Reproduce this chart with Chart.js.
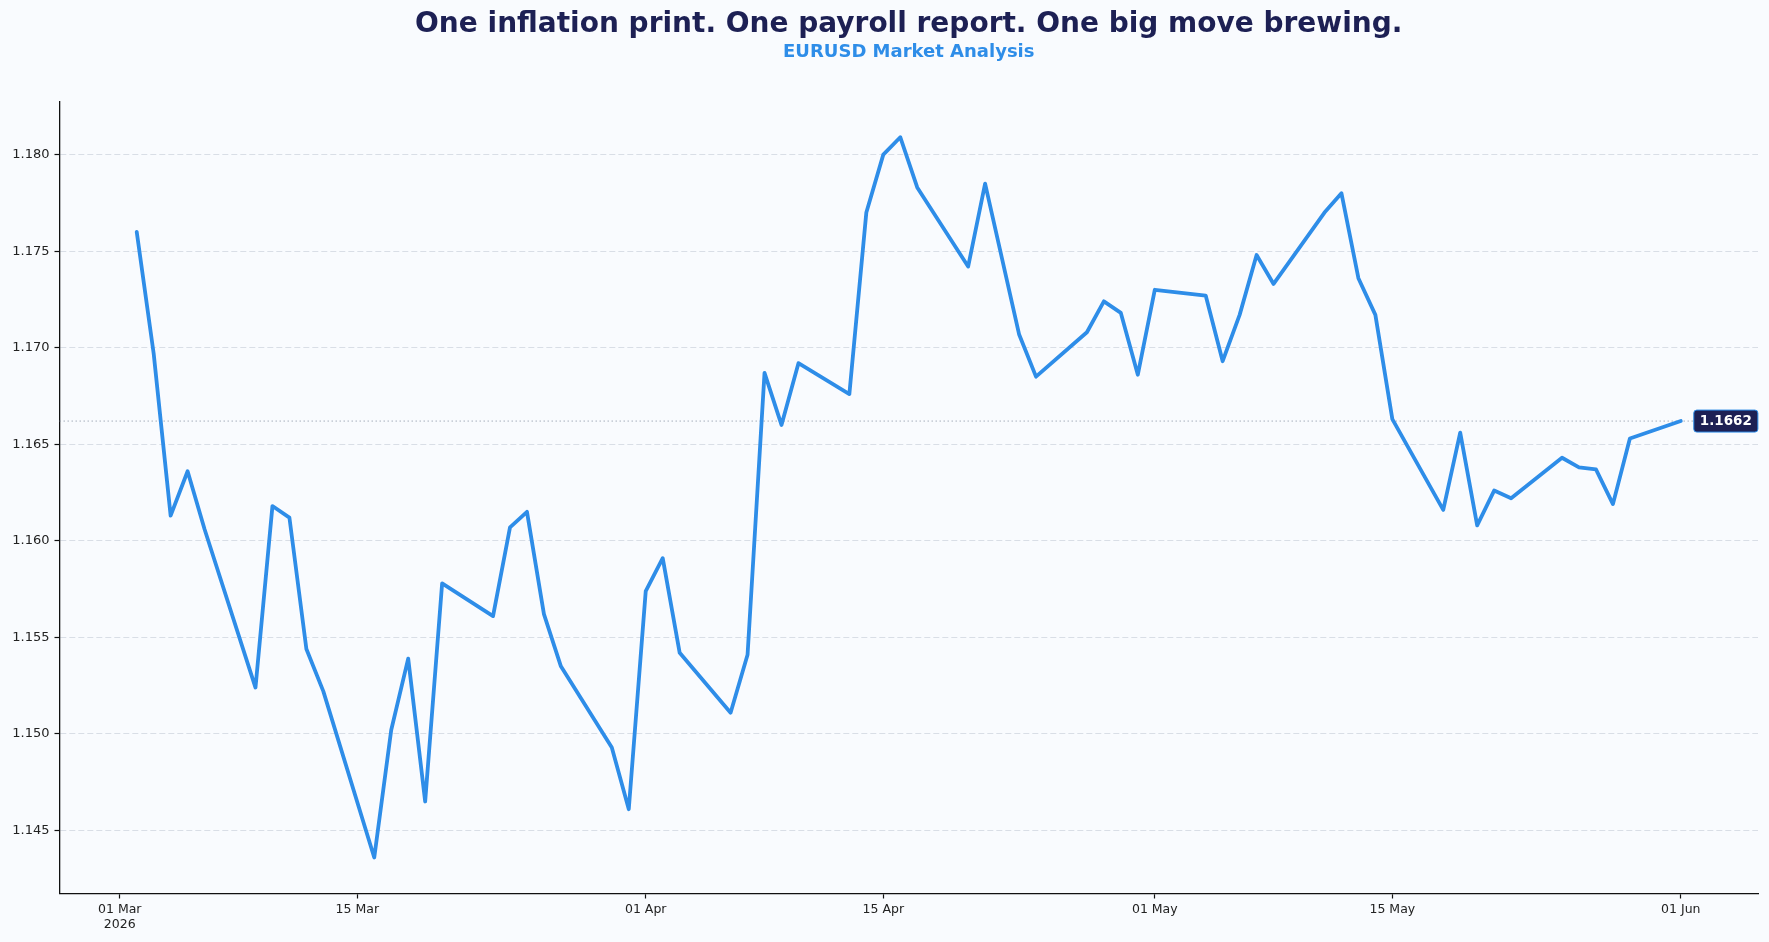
<!DOCTYPE html>
<html>
<head>
<meta charset="utf-8">
<title>EURUSD Market Analysis</title>
<script src="https://cdn.jsdelivr.net/npm/chart.js@4.4.1/dist/chart.umd.min.js"></script>
<style>
    html, body { margin: 0; padding: 0; background: #f9fbfe; }
    #wrap { width: 1769px; height: 942px; }
</style>
</head>
<body>
<div id="wrap"><canvas id="fx"></canvas></div>
<script>
// daily EURUSD closes (weekdays only)
var aDates = [
    '2026-03-02', '2026-03-03', '2026-03-04', '2026-03-05', '2026-03-06',
    '2026-03-09', '2026-03-10', '2026-03-11', '2026-03-12', '2026-03-13',
    '2026-03-16', '2026-03-17', '2026-03-18', '2026-03-19', '2026-03-20',
    '2026-03-23', '2026-03-24', '2026-03-25', '2026-03-26', '2026-03-27',
    '2026-03-30', '2026-03-31', '2026-04-01', '2026-04-02', '2026-04-03',
    '2026-04-06', '2026-04-07', '2026-04-08', '2026-04-09', '2026-04-10',
    '2026-04-13', '2026-04-14', '2026-04-15', '2026-04-16', '2026-04-17',
    '2026-04-20', '2026-04-21', '2026-04-22', '2026-04-23', '2026-04-24',
    '2026-04-27', '2026-04-28', '2026-04-29', '2026-04-30', '2026-05-01',
    '2026-05-04', '2026-05-05', '2026-05-06', '2026-05-07', '2026-05-08',
    '2026-05-11', '2026-05-12', '2026-05-13', '2026-05-14', '2026-05-15',
    '2026-05-18', '2026-05-19', '2026-05-20', '2026-05-21', '2026-05-22',
    '2026-05-25', '2026-05-26', '2026-05-27', '2026-05-28', '2026-05-29',
    '2026-06-01'
];
var aRates = [
    1.1760, 1.1697, 1.1613, 1.1636, 1.1606,
    1.1524, 1.1618, 1.1612, 1.1544, 1.1522,
    1.1436, 1.1502, 1.1539, 1.1465, 1.1578,
    1.1561, 1.1607, 1.1615, 1.1562, 1.1535,
    1.1493, 1.1461, 1.1574, 1.1591, 1.1542,
    1.1511, 1.1541, 1.1687, 1.1660, 1.1692,
    1.1676, 1.1770, 1.1800, 1.1809, 1.1783,
    1.1742, 1.1785, 1.1746, 1.1707, 1.1685,
    1.1708, 1.1724, 1.1718, 1.1686, 1.1730,
    1.1727, 1.1693, 1.1717, 1.1748, 1.1733,
    1.1770, 1.1780, 1.1736, 1.1717, 1.1663,
    1.1616, 1.1656, 1.1608, 1.1626, 1.1622,
    1.1643, 1.1638, 1.1637, 1.1619, 1.1653,
    1.1662
];
var aXTicks = ['2026-03-01', '2026-03-15', '2026-04-01', '2026-04-15', '2026-05-01', '2026-05-15', '2026-06-01'];
var aXTickLabels = [['01 Mar', '2026'], '15 Mar', '01 Apr', '15 Apr', '01 May', '15 May', '01 Jun'];
var aYTicks = [1.145, 1.150, 1.155, 1.160, 1.165, 1.170, 1.175, 1.180];

var sTitle = 'One inflation print. One payroll report. One big move brewing.';
var sSubtitle = 'EURUSD Market Analysis';

var NAVY = '#1d2054';
var BLUE = '#2e8de8';
var FONT = "'DejaVu Sans', sans-serif";

function toMs(s) {
    var p = s.split('-');
    return Date.UTC(+p[0], +p[1] - 1, +p[2]);
}

var aPoints = [];
for (var i = 0; i < aDates.length; i++) {
    aPoints.push({x: toMs(aDates[i]), y: aRates[i]});
}

// 5% margins on both axes
var xLo = aPoints[0].x, xHi = aPoints[aPoints.length - 1].x;
var xPad = (xHi - xLo) * 0.05;
var yLo = Math.min.apply(null, aRates), yHi = Math.max.apply(null, aRates);
var yPad = (yHi - yLo) * 0.05;
var lastRate = aRates[aRates.length - 1];
var lastX = aPoints[aPoints.length - 1].x;

var oLastValue = {
    id: 'lastValue',
    beforeDraw: function (chart) {
        var ctx = chart.ctx;
        ctx.save();
        ctx.fillStyle = '#f9fbfe';
        ctx.fillRect(0, 0, chart.width, chart.height);
        ctx.restore();
    },
    beforeDatasetsDraw: function (chart) {
        var ctx = chart.ctx, area = chart.chartArea;
        var y = chart.scales.y.getPixelForValue(lastRate);
        ctx.save();
        ctx.setLineDash([1.5, 2.5]);
        ctx.strokeStyle = 'rgba(140,150,165,0.75)';
        ctx.lineWidth = 1;
        ctx.beginPath();
        ctx.moveTo(area.left, y);
        ctx.lineTo(area.right, y);
        ctx.stroke();
        ctx.restore();
    },
    afterDatasetsDraw: function (chart) {
        var ctx = chart.ctx;
        var x = chart.scales.x.getPixelForValue(lastX) + 13;
        var y = chart.scales.y.getPixelForValue(lastRate);
        var txt = lastRate.toFixed(4);
        ctx.save();
        ctx.font = 'bold 13.5px ' + FONT;
        var w = ctx.measureText(txt).width + 12, h = 22, r = 3;
        var top = y - h / 2;
        ctx.beginPath();
        ctx.moveTo(x + r, top);
        ctx.lineTo(x + w - r, top);
        ctx.quadraticCurveTo(x + w, top, x + w, top + r);
        ctx.lineTo(x + w, top + h - r);
        ctx.quadraticCurveTo(x + w, top + h, x + w - r, top + h);
        ctx.lineTo(x + r, top + h);
        ctx.quadraticCurveTo(x, top + h, x, top + h - r);
        ctx.lineTo(x, top + r);
        ctx.quadraticCurveTo(x, top, x + r, top);
        ctx.closePath();
        ctx.fillStyle = NAVY;
        ctx.fill();
        ctx.strokeStyle = BLUE;
        ctx.lineWidth = 1;
        ctx.stroke();
        ctx.fillStyle = '#ffffff';
        ctx.textBaseline = 'middle';
        ctx.textAlign = 'center';
        ctx.fillText(txt, x + w / 2, y + 0.5);
        ctx.restore();
    }
};

var chart = new Chart(document.getElementById('fx').getContext('2d'), {
    type: 'line',
    data: {
        datasets: [{
            data: aPoints,
            borderColor: BLUE,
            borderWidth: 3.8,
            borderJoinStyle: 'round',
            borderCapStyle: 'round',
            pointRadius: 0,
            tension: 0,
            fill: false
        }]
    },
    options: {
        responsive: true,
        maintainAspectRatio: false,
        animation: false,
        layout: {padding: {left: 0, right: 11, top: 0, bottom: 0}},
        plugins: {
            legend: {display: false},
            tooltip: {enabled: false},
            title: {
                display: true,
                text: sTitle,
                color: NAVY,
                fullSize: false,
                font: {family: FONT, size: 28, weight: 'bold'},
                padding: {top: 7.5, bottom: 0}
            },
            subtitle: {
                display: true,
                text: sSubtitle,
                color: BLUE,
                fullSize: false,
                font: {family: FONT, size: 18, weight: 'bold'},
                padding: {top: 0, bottom: 38.5}
            }
        },
        scales: {
            x: {
                type: 'linear',
                bounds: 'data',
                min: xLo - xPad,
                max: xHi + xPad,
                afterBuildTicks: function (scale) {
                    scale.ticks = aXTicks.map(function (d) { return {value: toMs(d)}; });
                },
                afterFit: function (scale) { scale.height = 48.5; },
                ticks: {
                    autoSkip: false,
                    maxRotation: 0,
                    padding: 4,
                    color: '#222222',
                    font: {family: FONT, size: 12.5},
                    callback: function (v, idx) { return aXTickLabels[idx]; }
                },
                grid: {
                    drawOnChartArea: false,
                    drawTicks: true,
                    tickLength: 5,
                    tickColor: '#111111',
                    tickWidth: 1.2
                },
                border: {display: true, color: '#111111', width: 1.3}
            },
            y: {
                type: 'linear',
                bounds: 'data',
                min: yLo - yPad,
                max: yHi + yPad,
                afterBuildTicks: function (scale) {
                    scale.ticks = aYTicks.map(function (v) { return {value: v}; });
                },
                afterFit: function (scale) { scale.width = 59.5; },
                ticks: {
                    padding: 5,
                    color: '#222222',
                    font: {family: FONT, size: 13},
                    callback: function (v) { return Number(v).toFixed(3); }
                },
                grid: {
                    color: 'rgba(170,180,195,0.5)',
                    lineWidth: 0.8,
                    drawTicks: true,
                    tickLength: 5,
                    tickColor: '#111111',
                    tickWidth: 1.2,
                    tickBorderDash: []
                },
                border: {display: true, color: '#111111', width: 1.3, dash: [6, 3]}
            }
        }
    },
    plugins: [oLastValue]
});
</script>
</body>
</html>
